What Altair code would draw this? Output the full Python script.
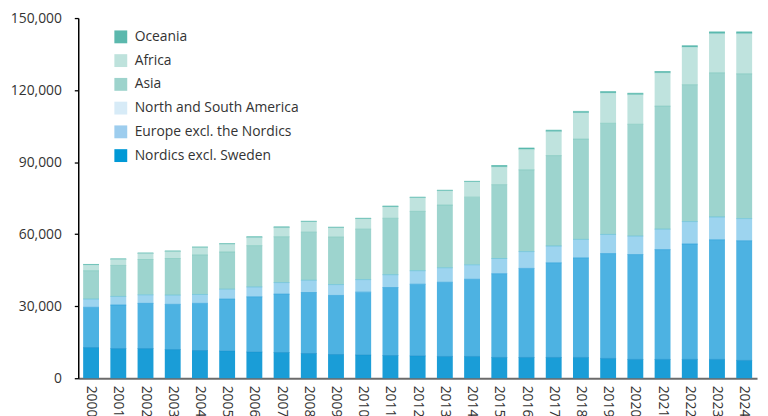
import altair as alt
import pandas as pd

years = ["2000", "2001", "2002", "2003", "2004", "2005", "2006", "2007", "2008", "2009",
         "2010", "2011", "2012", "2013", "2014", "2015", "2016", "2017", "2018", "2019",
         "2020", "2021", "2022", "2023", "2024"]

nordics = [12780, 12360, 12360, 11950, 11540, 11400, 10990, 10710, 10300, 9890,
           9750, 9480, 9340, 9070, 9070, 8650, 8650, 8650, 8650, 8240,
           7830, 7830, 7830, 7830, 7420]
europe = [16760, 18140, 18820, 18820, 19640, 21570, 22930, 24320, 25410, 24590,
          26100, 28290, 29810, 30900, 32140, 34900, 37090, 39430, 41490, 43680,
          43680, 45740, 48080, 49860, 49860]
americas = [3430, 3570, 3570, 3850, 3710, 4120, 4120, 4810, 5090, 4530,
            5230, 5360, 5640, 6050, 6040, 6310, 7010, 7000, 7680, 7970,
            7690, 8520, 9340, 9480, 9210]
asia = [11820, 12910, 14700, 15240, 16480, 15510, 17180, 19090, 20050, 19780,
        21010, 23490, 24710, 26100, 28160, 30770, 34060, 37640, 41770, 46290,
        46570, 51240, 57000, 60030, 60300]
africa = [2310, 2470, 2470, 2890, 3030, 3170, 3300, 3710, 4260, 3850,
          4260, 4670, 5620, 5890, 6320, 7280, 8380, 9890, 10850, 12500,
          12220, 13730, 15530, 16210, 16620]
oceania = [290, 280, 280, 270, 270, 280, 410, 410, 270, 270,
           270, 410, 290, 290, 280, 690, 690, 690, 690, 690,
           690, 690, 690, 830, 830]

categories = ["Nordics excl. Sweden", "Europe excl. the Nordics", "North and South America",
              "Asia", "Africa", "Oceania"]
bar_colors = ["#1a9dd7", "#4db2e2", "#9dd4ef", "#9dd4ce", "#bfe3de", "#5ab9ae"]
edge_colors = ["#138fcc", "#2fa3db", "#62bfd8", "#7fc7bd", "#bfe3de", "#5ab9ae"]
legend_order = ["Oceania", "Africa", "Asia", "North and South America",
                "Europe excl. the Nordics", "Nordics excl. Sweden"]
legend_colors = ["#5bb8ad", "#bee2dc", "#9dd3cc", "#d7ebf7", "#9dcdee", "#0099d6"]

series = [nordics, europe, americas, asia, africa, oceania]
rows = []
for ci, (cat, vals) in enumerate(zip(categories, series)):
    for y, v in zip(years, vals):
        rows.append({"year": y, "category": cat, "value": v, "ord": ci})
df = pd.DataFrame(rows)

FONT = "Open Sans"

base = alt.Chart(df)

x_enc = alt.X("year:N", sort=years,
              scale=alt.Scale(paddingInner=0.417, paddingOuter=0.18),
              axis=alt.Axis(title=None, labelAngle=90, labelFontSize=14, labelFont=FONT,
                            labelColor="#333333", labelPadding=7, ticks=False, tickSize=0,
                            domainColor="#6b6b6b", domainWidth=2))
y_enc = alt.Y("value:Q", stack="zero",
              scale=alt.Scale(domain=[0, 150000], nice=False),
              axis=alt.Axis(title=None, values=[0, 30000, 60000, 90000, 120000, 150000],
                            format=",.0f", labelFontSize=14, labelFont=FONT,
                            labelColor="#333333", labelPadding=13, tickSize=4,
                            tickColor="#000000", tickWidth=1.3,
                            domainColor="#000000", domainWidth=1.5, grid=False))
order_enc = alt.Order("ord:Q", sort="ascending")

bars = base.mark_bar().encode(
    x=x_enc, y=y_enc,
    color=alt.Color("category:N", scale=alt.Scale(domain=categories, range=bar_colors),
                    legend=None),
    order=order_enc,
)

edges = base.mark_tick(thickness=1, size=16).encode(
    x=x_enc, y=y_enc,
    color=alt.Color("category:N", scale=alt.Scale(domain=categories, range=edge_colors),
                    legend=None),
    order=order_enc,
)

legend_layer = base.transform_filter("datum.ord < 0").mark_square(
    filled=True, opacity=1, size=169
).encode(
    fill=alt.Fill("category:N",
                  scale=alt.Scale(domain=legend_order, range=legend_colors),
                  legend=alt.Legend(title=None, orient="none", legendX=36, legendY=12,
                                    padding=0, rowPadding=10, labelFontSize=14,
                                    labelFont=FONT, labelColor="#333333", labelOffset=7,
                                    labelLimit=400,
                                    symbolType="square", symbolSize=169,
                                    symbolStrokeWidth=0, symbolOpacity=1))
)

chart = alt.layer(bars, edges, legend_layer).resolve_scale(
    color="independent"
).properties(
    width=686, height=364,
    autosize=alt.AutoSizeParams(type="none"),
    padding={"left": 71, "top": 8, "right": 3, "bottom": 36},
).configure_view(stroke=None)

chart.save("out.html", embed_options={"renderer": "svg", "actions": False})
